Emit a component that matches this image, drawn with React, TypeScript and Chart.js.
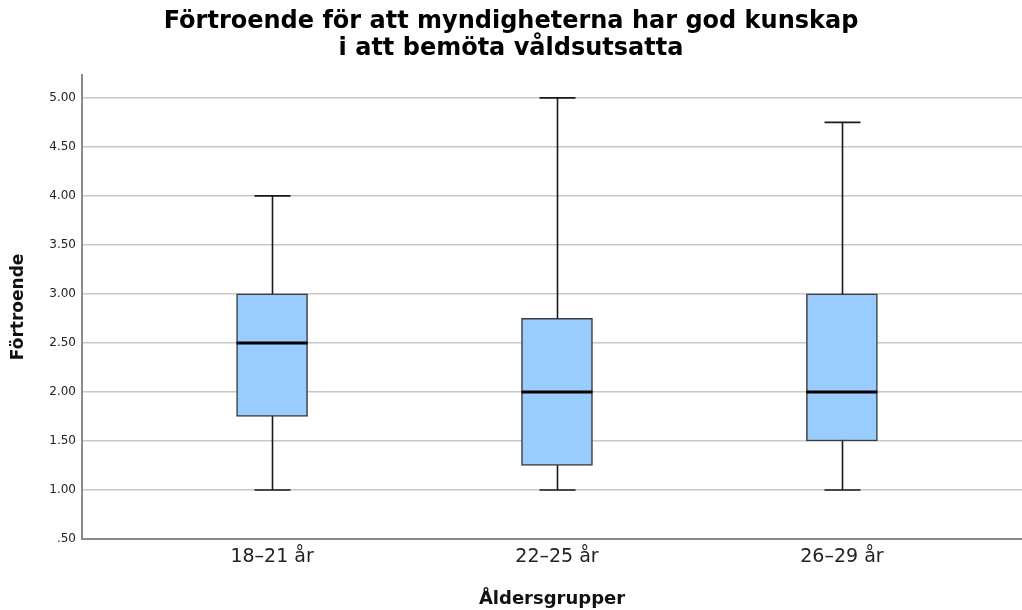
import React, { useEffect, useRef } from "react";
import { Chart, registerables } from "chart.js";

Chart.register(...registerables);

const categories = ["18–21 år", "22–25 år", "26–29 år"];
const minValues = [1.0, 1.0, 1.0];
const q1Values = [1.75, 1.25, 1.5];
const medianValues = [2.5, 2.0, 2.0];
const q3Values = [3.0, 2.75, 3.0];
const maxValues = [4.0, 5.0, 4.75];
const yTickValues = [0.5, 1.0, 1.5, 2.0, 2.5, 3.0, 3.5, 4.0, 4.5, 5.0];

const titleLines = ["Förtroende för att myndigheterna har god kunskap", "i att bemöta våldsutsatta"];
const yAxisTitle = "Förtroende";
const xAxisTitle = "Åldersgrupper";

const BOX_WIDTH = 71;
const CAP_WIDTH = 36;

const boxPlugin = {
  id: "boxWhiskers",
  beforeDatasetsDraw(chart: any) {
    const { ctx, scales } = chart;
    const x = scales.x;
    const y = scales.y;
    ctx.save();
    ctx.strokeStyle = "#1a1a1a";
    ctx.lineWidth = 1.6;
    categories.forEach((_, i) => {
      const cx = Math.round(x.getPixelForValue(i)) + 0.5;
      const yMin = y.getPixelForValue(minValues[i]);
      const yMax = y.getPixelForValue(maxValues[i]);
      ctx.beginPath();
      ctx.moveTo(cx, yMin);
      ctx.lineTo(cx, yMax);
      ctx.moveTo(cx - CAP_WIDTH / 2, yMin);
      ctx.lineTo(cx + CAP_WIDTH / 2, yMin);
      ctx.moveTo(cx - CAP_WIDTH / 2, yMax);
      ctx.lineTo(cx + CAP_WIDTH / 2, yMax);
      ctx.stroke();
    });
    ctx.restore();
  },
  afterDatasetsDraw(chart: any) {
    const { ctx, scales } = chart;
    const x = scales.x;
    const y = scales.y;
    ctx.save();
    ctx.strokeStyle = "#000000";
    ctx.lineWidth = 3;
    categories.forEach((_, i) => {
      const cx = x.getPixelForValue(i);
      const ym = y.getPixelForValue(medianValues[i]);
      ctx.beginPath();
      ctx.moveTo(cx - BOX_WIDTH / 2, ym);
      ctx.lineTo(cx + BOX_WIDTH / 2, ym);
      ctx.stroke();
    });
    ctx.restore();
  },
};

export default function App() {
  const canvasRef = useRef<HTMLCanvasElement | null>(null);

  useEffect(() => {
    if (!canvasRef.current) return;
    const chart = new Chart(canvasRef.current, {
      type: "bar",
      data: {
        datasets: [
          {
            data: categories.map((_, i) => ({ x: i, y: [q1Values[i], q3Values[i]] })) as any,
            backgroundColor: "#99CCFF",
            borderColor: "#3a3a3a",
            borderWidth: 1.5,
            borderSkipped: false,
            barThickness: BOX_WIDTH,
          },
        ],
      },
      options: {
        responsive: false,
        animation: false,
        layout: { padding: { left: 0, right: 0, top: 0, bottom: 0 } },
        plugins: {
          legend: { display: false },
          tooltip: { enabled: false },
          title: {
            display: true,
            text: titleLines,
            color: "#000000",
            font: { family: "DejaVu Sans", size: 24, weight: "bold", lineHeight: 1.1 },
            padding: { top: 9, bottom: 13 },
          },
        },
        scales: {
          x: {
            type: "linear",
            offset: false,
            min: -0.667,
            max: 2.632,
            afterBuildTicks(scale: any) {
              scale.ticks = categories.map((_, i) => ({ value: i }));
            },
            afterFit(scale: any) {
              scale.height = 71;
            },
            grid: { display: false, drawTicks: false },
            border: { display: true, color: "#8a8a8a", width: 2 },
            ticks: {
              autoSkip: false,
              maxRotation: 0,
              padding: 7,
              color: "#222222",
              font: { family: "DejaVu Sans", size: 19 },
              callback: (v: any) => categories[Math.round(Number(v))] ?? "",
            },
            title: {
              display: true,
              text: xAxisTitle,
              color: "#111111",
              font: { family: "DejaVu Sans", size: 18, weight: "bold" },
              padding: { top: 10, bottom: 0 },
            },
          },
          y: {
            type: "linear",
            min: 0.5,
            max: 5.235,
            afterBuildTicks(scale: any) {
              scale.ticks = yTickValues.map((v) => ({ value: v }));
            },
            afterFit(scale: any) {
              scale.width = 82;
            },
            grid: { color: "#c8c8c8", lineWidth: 1.5, drawTicks: false },
            border: { display: true, color: "#8a8a8a", width: 2 },
            ticks: {
              padding: 6,
              color: "#222222",
              font: { family: "DejaVu Sans", size: 12 },
              callback: (v: any) => {
                const s = Number(v).toFixed(2);
                return s.startsWith("0") ? s.slice(1) : s;
              },
            },
            title: {
              display: true,
              text: yAxisTitle,
              color: "#111111",
              font: { family: "DejaVu Sans", size: 17, weight: "bold" },
              padding: { top: 8, bottom: 6 },
            },
          },
        },
      },
      plugins: [boxPlugin],
    } as any);
    return () => chart.destroy();
  }, []);

  return (
    <div style={{ position: "fixed", left: 0, top: 0, width: 1022, height: 610, background: "#ffffff" }}>
      <canvas ref={canvasRef} width={1022} height={610} style={{ display: "block" }} />
    </div>
  );
}
